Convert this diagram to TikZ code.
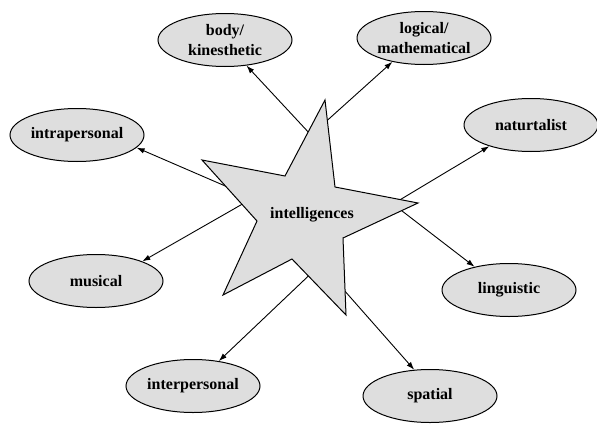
\documentclass[tikz,border=0pt]{standalone}
\usepackage{fontspec}
\setmainfont{Liberation Serif}
\usetikzlibrary{arrows.meta, shapes.geometric}
\definecolor{bubble}{RGB}{222,222,222}

\begin{document}
\begin{tikzpicture}[x=1pt, y=-1pt,
    idea/.style={ellipse, draw, line width=1pt, fill=bubble, minimum width=134pt, minimum height=53pt, inner sep=0pt, align=center, font=\fontsize{16}{20}\selectfont\bfseries},
    link/.style={-{Latex[length=8pt, width=5.5pt]}, line width=0.9pt}]
    \useasboundingbox (0,0) rectangle (597,423);

    % Intelligences round the star
    \node[idea] (body) at (225,40) {body/\\kinesthetic};
    \node[idea] (logic) at (424,38) {logical/\\mathematical};
    \node[idea] (intra) at (77,135) {intrapersonal};
    \node[idea] (natur) at (531,125) {naturtalist};
    \node[idea] (music) at (96,281) {musical};
    \node[idea] (lingu) at (509,290) {linguistic};
    \node[idea] (inter) at (193,386) {interpersonal};
    \node[idea] (spati) at (430,396) {spatial};

    % Start points, hidden behind the star
    \coordinate (sTop) at (311,135);
    \coordinate (sLeft) at (253,198);
    \coordinate (sRight) at (393,204);
    \coordinate (sBottom) at (321,264);

    % Arrows
    \draw[link] (sTop) -- (body.-50);
    \draw[link] (sTop) -- (logic.-143);
    \draw[link] (sLeft) -- (intra.-12);
    \draw[link] (sLeft) -- (music.23);
    \draw[link] (sRight) -- (natur.-153);
    \draw[link] (sRight) -- (lingu.146);
    \draw[link] (sBottom) -- (inter.44);
    \draw[link] (sBottom) -- (spati.121);

    % Star
    \draw[line width=1pt, fill=bubble] (325,100) -- (335,187) -- (418,203) -- (343,238) -- (346,315) -- (292,259) -- (223,295) -- (257,221) -- (202,160) -- (285,176) -- cycle;
    \node[font=\fontsize{16}{20}\selectfont\bfseries] (intel) at (312,215) {intelligences};
\end{tikzpicture}
\end{document}
